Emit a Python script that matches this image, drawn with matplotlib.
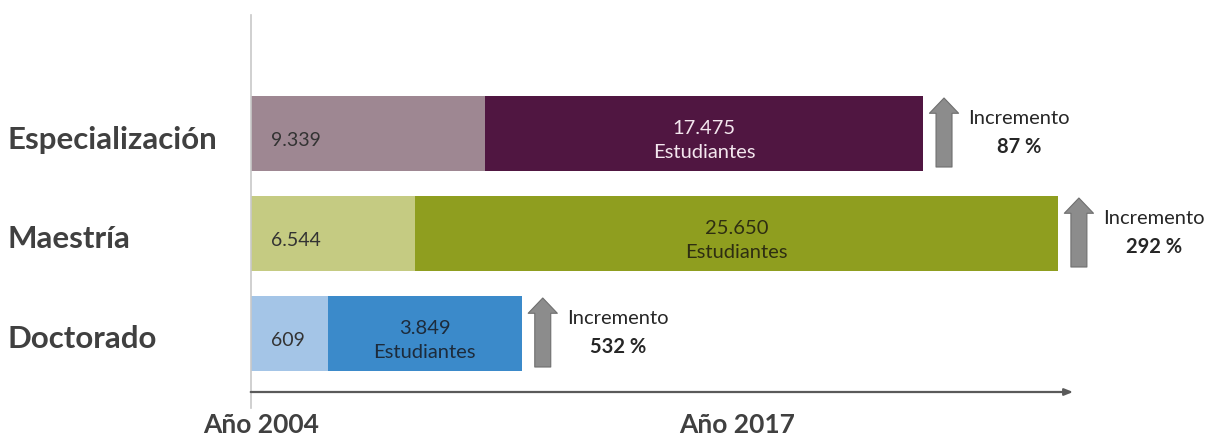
import matplotlib
matplotlib.use("Agg")
import matplotlib.pyplot as plt

# datos
categorias = ["Especialización", "Maestría", "Doctorado"]
estudiantes_2004 = [9339, 6544, 609]
estudiantes_2017 = [17475, 25650, 3849]
incremento = [87, 292, 532]
# largo dibujado de cada tramo (Doctorado aparece ampliado en el original)
largo_2004 = [9339, 6544, 3070]
largo_2017 = [17475, 25650, 7740]

colores_2004 = ["#9e8792", "#c5cb82", "#a4c5e7"]
colores_2017 = ["#501641", "#8f9e1f", "#3b8aca"]
color_texto_2017 = ["#f3e6ee", "#2e2e12", "#1d2b3b"]


def miles(v):
    return f"{v:,}".replace(",", ".")


plt.rcParams["font.family"] = ["Lato", "DejaVu Sans"]

fig = plt.figure(figsize=(12.11, 4.38), dpi=100)
ax = fig.add_axes([0, 0, 1, 1])
ax.set_xlim(-10000, 38300)
ax.set_ylim(3.045, -1.335)
ax.axis("off")

upx = (38300 + 10000) / 1211  # unidades de datos por pixel

y = list(range(len(categorias)))
ax.barh(y, largo_2004, height=0.75, color=colores_2004)
ax.barh(y, largo_2017, left=largo_2004, height=0.75, color=colores_2017)

for i, cat in enumerate(categorias):
    # etiqueta de categoria a la izquierda
    ax.text(-10000 + 8 * upx, i + 0.06, cat, ha="left", va="center",
            fontsize=22.5, fontweight="bold", color="#404040")
    # valor 2004
    ax.text(20 * upx, i + 0.065, miles(estudiantes_2004[i]), ha="left",
            va="center", fontsize=14, color="#333333")
    # valor 2017
    centro = largo_2004[i] + largo_2017[i] / 2
    ax.text(centro, i + 0.07, f"{miles(estudiantes_2017[i])}\nEstudiantes",
            ha="center", va="center", fontsize=14.5, color=color_texto_2017[i],
            linespacing=1.45)
    # flecha de incremento
    fin = largo_2004[i] + largo_2017[i]
    xf = fin + 21 * upx
    ax.annotate("", xy=(xf, i - 0.355), xytext=(xf, i + 0.335),
                arrowprops=dict(arrowstyle="simple,head_length=1.1,head_width=2.1,tail_width=1.15",
                                fc="#8c8c8c", ec="#6f6f6f", lw=0.8,
                                shrinkA=0, shrinkB=0, mutation_scale=10))
    xt = fin + 96 * upx
    ax.text(xt, i - 0.145, "Incremento", ha="center", va="center",
            fontsize=14.5, color="#262626")
    ax.text(xt, i + 0.135, f"{incremento[i]} %", ha="center", va="center",
            fontsize=14.5, fontweight="bold", color="#262626")

# ejes dibujados
ax.plot([0, 0], [-1.185, 2.745], color="#c8c8c8", lw=1.2)
ax.annotate("", xy=(32800, 2.585), xytext=(0, 2.585),
            arrowprops=dict(arrowstyle="-|>,head_length=0.5,head_width=0.2",
                            color="#5a5a5a", lw=1.6, shrinkA=0, shrinkB=0,
                            mutation_scale=10))

ax.text(400, 3.035, "Año 2004", ha="center", va="bottom", fontsize=19,
        fontweight="bold", color="#404040")
ax.text(19400, 3.035, "Año 2017", ha="center", va="bottom", fontsize=19,
        fontweight="bold", color="#404040")

fig.savefig("out.png", dpi=100)
